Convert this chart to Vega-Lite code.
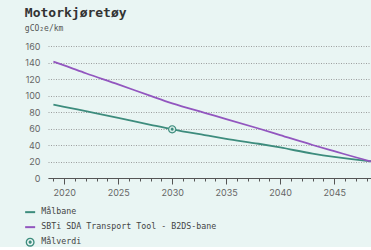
{
"$schema": "https://vega.github.io/schema/vega-lite/v6.json",
"width": 324,
"height": 132,
"padding": {"left": 24, "top": 7, "right": 0, "bottom": 0},
"background": "#e9f5f3",
"title": {"text": "Motorkjøretøy", "subtitle": "gCO₂e/km", "anchor": "start", "frame": "bounds", "font": "DejaVu Sans Mono", "fontSize": 13, "fontWeight": "bold", "color": "#333", "subtitleFont": "DejaVu Sans Mono", "subtitleFontSize": 8, "subtitleColor": "#555", "subtitlePadding": 5, "offset": 9},
"config": {"view": {"stroke": null}},
"data": {"values": [
{"series": "Målbane", "year": 2019, "value": 89},
{"series": "Målbane", "year": 2020, "value": 86.3},
{"series": "Målbane", "year": 2022, "value": 81},
{"series": "Målbane", "year": 2025, "value": 73},
{"series": "Målbane", "year": 2028, "value": 64.5},
{"series": "Målbane", "year": 2030, "value": 59},
{"series": "Målbane", "year": 2033, "value": 52},
{"series": "Målbane", "year": 2035, "value": 47.5},
{"series": "Målbane", "year": 2038, "value": 41.5},
{"series": "Målbane", "year": 2040, "value": 37},
{"series": "Målbane", "year": 2043, "value": 29.5},
{"series": "Målbane", "year": 2045, "value": 25.5},
{"series": "Målbane", "year": 2048, "value": 20.8},
{"series": "Målbane", "year": 2050, "value": 18.5},
{"series": "SBTi SDA Transport Tool - B2DS-bane", "year": 2019, "value": 141},
{"series": "SBTi SDA Transport Tool - B2DS-bane", "year": 2020, "value": 136.5},
{"series": "SBTi SDA Transport Tool - B2DS-bane", "year": 2022, "value": 127},
{"series": "SBTi SDA Transport Tool - B2DS-bane", "year": 2025, "value": 113.5},
{"series": "SBTi SDA Transport Tool - B2DS-bane", "year": 2028, "value": 99.5},
{"series": "SBTi SDA Transport Tool - B2DS-bane", "year": 2030, "value": 90.5},
{"series": "SBTi SDA Transport Tool - B2DS-bane", "year": 2033, "value": 79},
{"series": "SBTi SDA Transport Tool - B2DS-bane", "year": 2035, "value": 71.5},
{"series": "SBTi SDA Transport Tool - B2DS-bane", "year": 2038, "value": 60},
{"series": "SBTi SDA Transport Tool - B2DS-bane", "year": 2040, "value": 52},
{"series": "SBTi SDA Transport Tool - B2DS-bane", "year": 2043, "value": 40},
{"series": "SBTi SDA Transport Tool - B2DS-bane", "year": 2045, "value": 32.5},
{"series": "SBTi SDA Transport Tool - B2DS-bane", "year": 2048, "value": 21.5},
{"series": "SBTi SDA Transport Tool - B2DS-bane", "year": 2050, "value": 15},
{"series": "Målverdi", "year": 2030, "value": 59}
]},
"encoding": {
"x": {"field": "year", "type": "quantitative", "scale": {"domain": [2018.5, 2048.5], "nice": false, "zero": false},
 "axis": {"values": [2019,2020,2021,2022,2023,2024,2025,2026,2027,2028,2029,2030,2031,2032,2033,2034,2035,2036,2037,2038,2039,2040,2041,2042,2043,2044,2045,2046,2047,2048],
  "format": "d", "labelExpr": "datum.value % 5 === 0 ? datum.label : ''",
  "tickSize": {"condition": {"test": "datum.value % 5 === 0", "value": 6}, "value": 3},
  "grid": false, "title": null, "domainColor": "#555", "tickColor": "#555", "tickWidth": 1, "domainWidth": 1,
  "labelFont": "Inter", "labelFontSize": 9, "labelColor": "#666", "labelPadding": 4, "labelFlush": false, "labelOverlap": false}},
"y": {"field": "value", "type": "quantitative", "scale": {"domain": [0, 160], "nice": false},
 "axis": {"values": [0,20,40,60,80,100,120,140,160], "title": null, "domain": false, "ticks": false, "labelPadding": 8,
  "grid": true, "gridColor": "#888", "gridDash": [1, 1.5], "gridWidth": 0.8,
  "labelFont": "Inter", "labelFontSize": 9, "labelColor": "#666"}}
},
"layer": [
{"transform": [{"filter": "datum.series !== 'Målverdi'"}],
 "mark": {"type": "line", "strokeWidth": 1.8, "clip": true, "interpolate": "monotone"},
 "encoding": {"color": {"field": "series", "type": "nominal",
  "scale": {"domain": ["Målbane", "SBTi SDA Transport Tool - B2DS-bane", "Målverdi"], "range": ["#3d8c7d", "#9256bf", "#3d8c7d"]},
  "legend": {"title": null, "orient": "none", "legendX": -22, "legendY": 162, "direction": "vertical",
   "labelFont": "DejaVu Sans Mono", "labelFontSize": 8.3, "labelColor": "#444", "labelLimit": 0, "symbolSize": 100, "symbolStrokeWidth": 2,
   "rowPadding": 5, "labelOffset": 7, "symbolType": "stroke",
   "encode": {"symbols": {"update": {
     "shape": {"signal": "datum.value === 'Målverdi' ? 'M0,-1A1,1 0 1,1 0,1A1,1 0 1,1 0,-1Z M0,-0.7A0.7,0.7 0 1,0 0,0.7A0.7,0.7 0 1,0 0,-0.7Z M0,-0.35A0.35,0.35 0 1,1 0,0.35A0.35,0.35 0 1,1 0,-0.35Z' : 'stroke'"},
     "fill": {"signal": "datum.value === 'Målverdi' ? '#3d8c7d' : 'transparent'"},
     "strokeWidth": {"signal": "datum.value === 'Målverdi' ? 0 : 2"},
     "size": {"signal": "datum.value === 'Målverdi' ? 81 : 100"}
   }}}}}}
},
{"transform": [{"filter": "datum.series === 'Målverdi'"}],
 "mark": {"type": "point", "shape": "circle", "filled": true, "color": "#d4ebe6", "size": 60, "opacity": 1}
},
{"transform": [{"filter": "datum.series === 'Målverdi'"}],
 "mark": {"type": "point", "shape": "M0,-1A1,1 0 1,1 0,1A1,1 0 1,1 0,-1Z M0,-0.72A0.72,0.72 0 1,0 0,0.72A0.72,0.72 0 1,0 0,-0.72Z M0,-0.35A0.35,0.35 0 1,1 0,0.35A0.35,0.35 0 1,1 0,-0.35Z", "filled": true, "size": 70, "opacity": 1},
 "encoding": {"color": {"field": "series", "type": "nominal"}}
}
]
}
